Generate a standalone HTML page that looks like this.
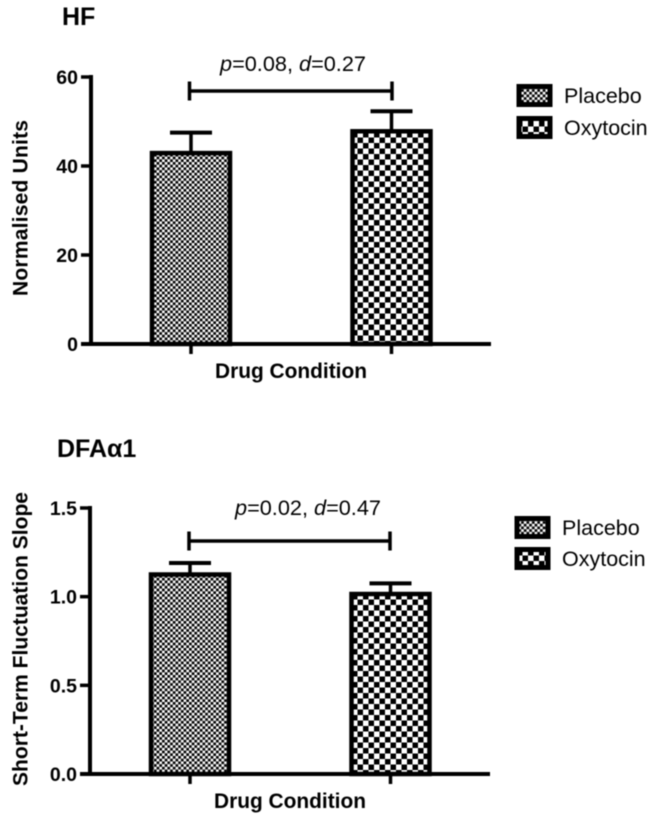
<!DOCTYPE html>
<html>
<head>
<meta charset="utf-8">
<style>
html,body{margin:0;padding:0;background:#fff;}
svg{display:block;position:absolute;left:0;top:0;filter:blur(0.4px);}
text{font-family:"Liberation Sans",sans-serif;fill:#000;}
.b{font-weight:bold;}
</style>
</head>
<body>
<svg id="fig" width="653" height="821" viewBox="0 0 653 821" xmlns="http://www.w3.org/2000/svg">
<defs>
<pattern id="fine" patternUnits="userSpaceOnUse" width="5.4" height="5.4">
<rect width="5.4" height="5.4" fill="#fff"/>
<rect width="2.7" height="2.7" fill="#000"/>
<rect x="2.7" y="2.7" width="2.7" height="2.7" fill="#000"/>
</pattern>
<pattern id="coarse" patternUnits="userSpaceOnUse" width="11" height="11">
<rect width="11" height="11" fill="#fff"/>
<rect width="5.5" height="5.5" fill="#000"/>
<rect x="5.5" y="5.5" width="5.5" height="5.5" fill="#000"/>
</pattern>
</defs>
</svg>
<script>
var conditions = ['Placebo', 'Oxytocin'];
var hfTicks = [0, 20, 40, 60];
var hfMeans = [42.9, 47.8];
var hfUpper = [47.5, 52.3];
var dfaTicks = [0.0, 0.5, 1.0, 1.5];
var dfaTickLabels = ['0.0', '0.5', '1.0', '1.5'];
var dfaMeans = [1.125, 1.015];
var dfaUpper = [1.19, 1.075];

var svg = document.getElementById('fig');
var NS = 'http://www.w3.org/2000/svg';

function mk(tag, attrs, txt) {
  var e = document.createElementNS(NS, tag);
  for (var k in attrs) e.setAttribute(k, attrs[k]);
  if (txt !== undefined) e.textContent = txt;
  svg.appendChild(e);
  return e;
}
function line(x1, y1, x2, y2, w) {
  return mk('line', {x1: x1, y1: y1, x2: x2, y2: y2, stroke: '#000', 'stroke-width': w});
}

function drawChart(c) {
  var yScale = function (v) { return c.y0 - (v - c.min) / (c.max - c.min) * (c.y0 - c.y1); };
  var xScale = function (i) { return c.xc[0] + i * (c.xc[1] - c.xc[0]); };

  var title = mk('text', {x: c.titleX, y: c.titleY, 'font-size': 25, 'class': 'b'}, c.title);
  
  

  c.means.forEach(function (m, i) {
    var x = xScale(i), top = yScale(m), up = yScale(c.upper[i]);
    var stem = line(x, up, x, top, 3.5);
    
    
    var cap = line(x - 21, up, x + 21, up, 4);
    
    
    var bar = mk('rect', {x: x - 39, y: top, width: 78, height: c.y0 - top,
      fill: i === 0 ? 'url(#fine)' : 'url(#coarse)', stroke: '#000', 'stroke-width': 4.5});
    
    
    var xt = line(x, c.y0, x, c.y0 + 10, 3.5);
    
    
  });

  var yAxis = line(c.ax, c.y1 - 2, c.ax, c.y0 + 2, 4);
  
  
  var xAxis = line(c.ax - 10, c.y0, c.xEnd, c.y0, 4);
  
  

  c.ticks.forEach(function (t, i) {
    var y = yScale(t);
    var tk = line(c.ax - 10, y, c.ax, y, 3.5);
    
    
    var lb = mk('text', {x: c.ax - 13, y: y + 7, 'font-size': 19.5, 'text-anchor': 'end', 'class': 'b'}, c.tickLabels[i]);
    
    
  });

  var xT = mk('text', {x: c.xTitleX, y: c.y0 + 34, 'font-size': 20.9, 'class': 'b', textLength: 152, lengthAdjust: 'spacing'}, 'Drug Condition');
  
  

  var yT = mk('text', {x: 0, y: 0, 'font-size': 21, 'class': 'b', 'text-anchor': 'middle',
    textLength: c.yTitleLen, lengthAdjust: 'spacing',
    transform: 'translate(27.5,' + c.yTitleC + ') rotate(-90)'}, c.yTitle);
  
  

  var bh = line(c.bx[0], c.by, c.bx[1], c.by, 3.5);
  
  
  c.bx.forEach(function (bxv) {
    var be = line(bxv, c.by - 9.5, bxv, c.by + 9.5, 3.5);
    
    
  });

  var note = mk('text', {x: c.noteX, y: c.noteY, 'font-size': 21.7});
  
  
  var parts = [['p', 1], ['=' + c.p + ', ', 0], ['d', 1], ['=' + c.d, 0]];
  parts.forEach(function (p) {
    var s = document.createElementNS(NS, 'tspan');
    if (p[1]) s.setAttribute('font-style', 'italic');
    s.textContent = p[0];
    note.appendChild(s);
  });

  conditions.forEach(function (name, i) {
    var ly = c.legY[i];
    var sw = mk('rect', {x: c.legX + 2, y: ly + 1.5, width: 31, height: 18,
      fill: i === 0 ? 'url(#fine)' : 'url(#coarse)', stroke: '#000', 'stroke-width': 5});
    
    
    var lt = mk('text', {x: c.legX + 47, y: ly + 18, 'font-size': 21.5}, name);
    
    
  });
}

drawChart({
  key: 'hf', title: 'HF', titleX: 62, titleY: 25,
  ticks: hfTicks, tickLabels: hfTicks.map(String), means: hfMeans, upper: hfUpper,
  min: 0, max: 60, y0: 344, y1: 77, ax: 91, xEnd: 491, xc: [191, 391.5],
  xTitleX: 215, yTitle: 'Normalised Units', yTitleLen: 176, yTitleC: 208,
  bx: [189.5, 392], by: 91, noteX: 220, noteY: 71, p: '0.08', d: '0.27',
  legX: 517, legY: [85, 117]
});
drawChart({
  key: 'dfa', title: 'DFA\u03B11', titleX: 57, titleY: 457,
  ticks: dfaTicks, tickLabels: dfaTickLabels, means: dfaMeans, upper: dfaUpper,
  min: 0, max: 1.5, y0: 774, y1: 508, ax: 90, xEnd: 490, xc: [190, 390.5],
  xTitleX: 214, yTitle: 'Short-Term Fluctuation Slope', yTitleLen: 294, yTitleC: 639,
  bx: [189, 390], by: 541, noteX: 235, noteY: 515, p: '0.02', d: '0.47',
  legX: 515, legY: [517, 548]
});
</script>
</body>
</html>
